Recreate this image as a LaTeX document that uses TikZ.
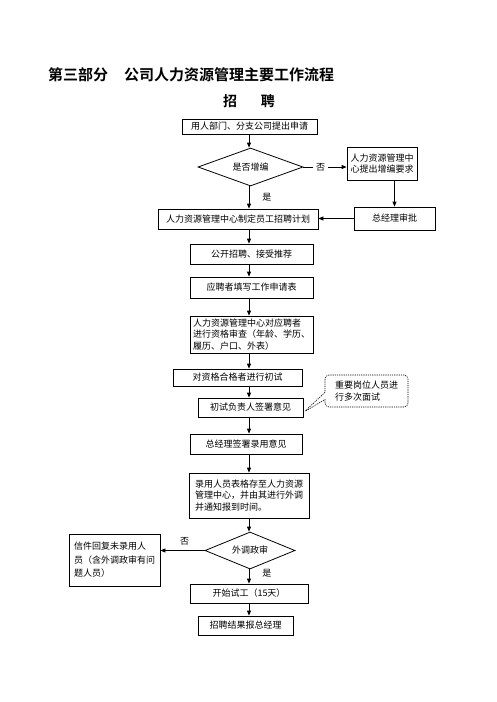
\documentclass[tikz,border=0pt]{standalone}
\usepackage{fontspec}
\setmainfont{Noto Sans CJK SC}[BoldFont={Noto Sans CJK SC Bold}]
\usetikzlibrary{arrows.meta,shapes.geometric,shapes.callouts}
\begin{document}
\begin{tikzpicture}[x=1pt,y=-1pt,
  box/.style={draw,line width=0.8pt,inner sep=2pt,font=\fontsize{9}{11.5}\selectfont,align=center},
  multibox/.style={box,align=left},
  decision/.style={draw,line width=0.8pt,shape=diamond,aspect=2.8,inner sep=0pt,font=\fontsize{9}{11}\selectfont},
  flow/.style={line width=0.8pt,-{Triangle[length=5pt,width=4pt]}},
  lbl/.style={font=\fontsize{9}{10}\selectfont,inner sep=1pt},
  note/.style={draw,line width=0.6pt,rectangle callout,rounded corners=4pt,dash pattern=on 1.2pt off 1pt,font=\fontsize{9}{12.5}\selectfont,align=left,inner sep=3pt}
]
\useasboundingbox[fill=white] (0,0) rectangle (496,702);
% titles
\node[anchor=west,font=\fontsize{15}{17}\selectfont\bfseries,inner sep=0pt] (title) at (48,75) {第三部分\hspace{16pt}公司人力资源管理主要工作流程};
\node[font=\fontsize{14}{16}\selectfont\bfseries,inner sep=0pt] (sub) at (249,101) {招\hspace{24pt}聘};
\coordinate (spine) at (249,0);
% boxes
\node[box,minimum width=135pt,minimum height=15pt] (b1) at (249.5,126.5) {用人部门、分支公司提出申请};
\node[decision,minimum width=105pt,minimum height=38pt] (d1) at (250.5,167) {是否增编};
\node[box,minimum width=70pt,minimum height=33pt] (req) at (382,163.5) {人力资源管理中\\心提出增编要求};
\node[box,minimum width=81pt,minimum height=23pt] (gm) at (394.5,218.5) {总经理审批};
\node[box,minimum width=160pt,minimum height=20pt] (plan) at (238,219) {人力资源管理中心制定员工招聘计划};
\node[box,minimum width=123pt,minimum height=20pt] (open) at (251.5,254) {公开招聘、接受推荐};
\node[box,minimum width=123pt,minimum height=21pt] (fill) at (251.5,287.5) {应聘者填写工作申请表};
\node[multibox,minimum width=123pt,minimum height=37pt] (review) at (251.5,334.5) {人力资源管理中心对应聘者\\进行资格审查（年龄、学历、\\履历、户口、外表）};
\node[box,minimum width=129pt,minimum height=17pt] (first) at (237.5,377.5) {对资格合格者进行初试};
\node[box,minimum width=105pt,minimum height=19pt] (sign) at (250.5,407.5) {初试负责人签署意见};
\node[box,minimum width=112pt,minimum height=20pt] (gmsign) at (246,444) {总经理签署录用意见};
\node[multibox,minimum width=120pt,minimum height=45pt] (store) at (249,495.5) {录用人员表格存至人力资源\\管理中心，并由其进行外调\\并通知报到时间。};
\node[decision,minimum width=90pt,minimum height=37pt] (d2) at (250,550.5) {外调政审};
\node[multibox,minimum width=91pt,minimum height=52pt,font=\fontsize{9}{13.5}\selectfont] (reject) at (114.5,560) {信件回复未录用人\\员（含外调政审有问\\题人员）};
\node[box,minimum width=118pt,minimum height=19pt] (trial) at (249,593.5) {开始试工（15天）};
\node[box,minimum width=95pt,minimum height=19pt] (report) at (245.5,625.5) {招聘结果报总经理};
\coordinate (tip) at (304,412);
\node[note,minimum width=83pt,minimum height=32pt,callout absolute pointer=(tip)] (callout) at (366.5,391) {重要岗位人员进\\行多次面试};
% connectors
\draw[flow] (b1.south -| spine) -- (d1.north -| spine);
\draw[flow] (d1.south -| spine) -- node[lbl,pos=0.5,right=12pt] {是} (plan.north -| spine);
\draw[flow] (d1.east) -- node[lbl,fill=white,inner sep=3pt,pos=0.4] {否} (d1.east -| req.west);
\draw[flow] (req.south -| gm.north) -- (gm.north);
\draw[flow] (gm.west) -- (plan.east |- gm.west);
\draw[flow] (plan.south -| spine) -- (open.north -| spine);
\draw[flow] (open.south -| spine) -- (fill.north -| spine);
\draw[flow] (fill.south -| spine) -- (review.north -| spine);
\draw[flow] (review.south -| spine) -- (first.north -| spine);
\draw[flow] (first.south -| spine) -- (sign.north -| spine);
\draw[flow] (sign.south -| spine) -- (gmsign.north -| spine);
\draw[flow] (gmsign.south -| spine) -- (store.north -| spine);
\draw[flow] (store.south -| spine) -- (d2.north -| spine);
\draw[flow] (d2.west) -- node[lbl,pos=0.45,above=4pt] {否} (d2.west -| reject.east);
\draw[flow] (d2.south -| spine) -- node[lbl,pos=0.3,right=12pt] {是} (trial.north -| spine);
\draw[flow] (trial.south -| spine) -- (report.north -| spine);
\end{tikzpicture}
\end{document}
